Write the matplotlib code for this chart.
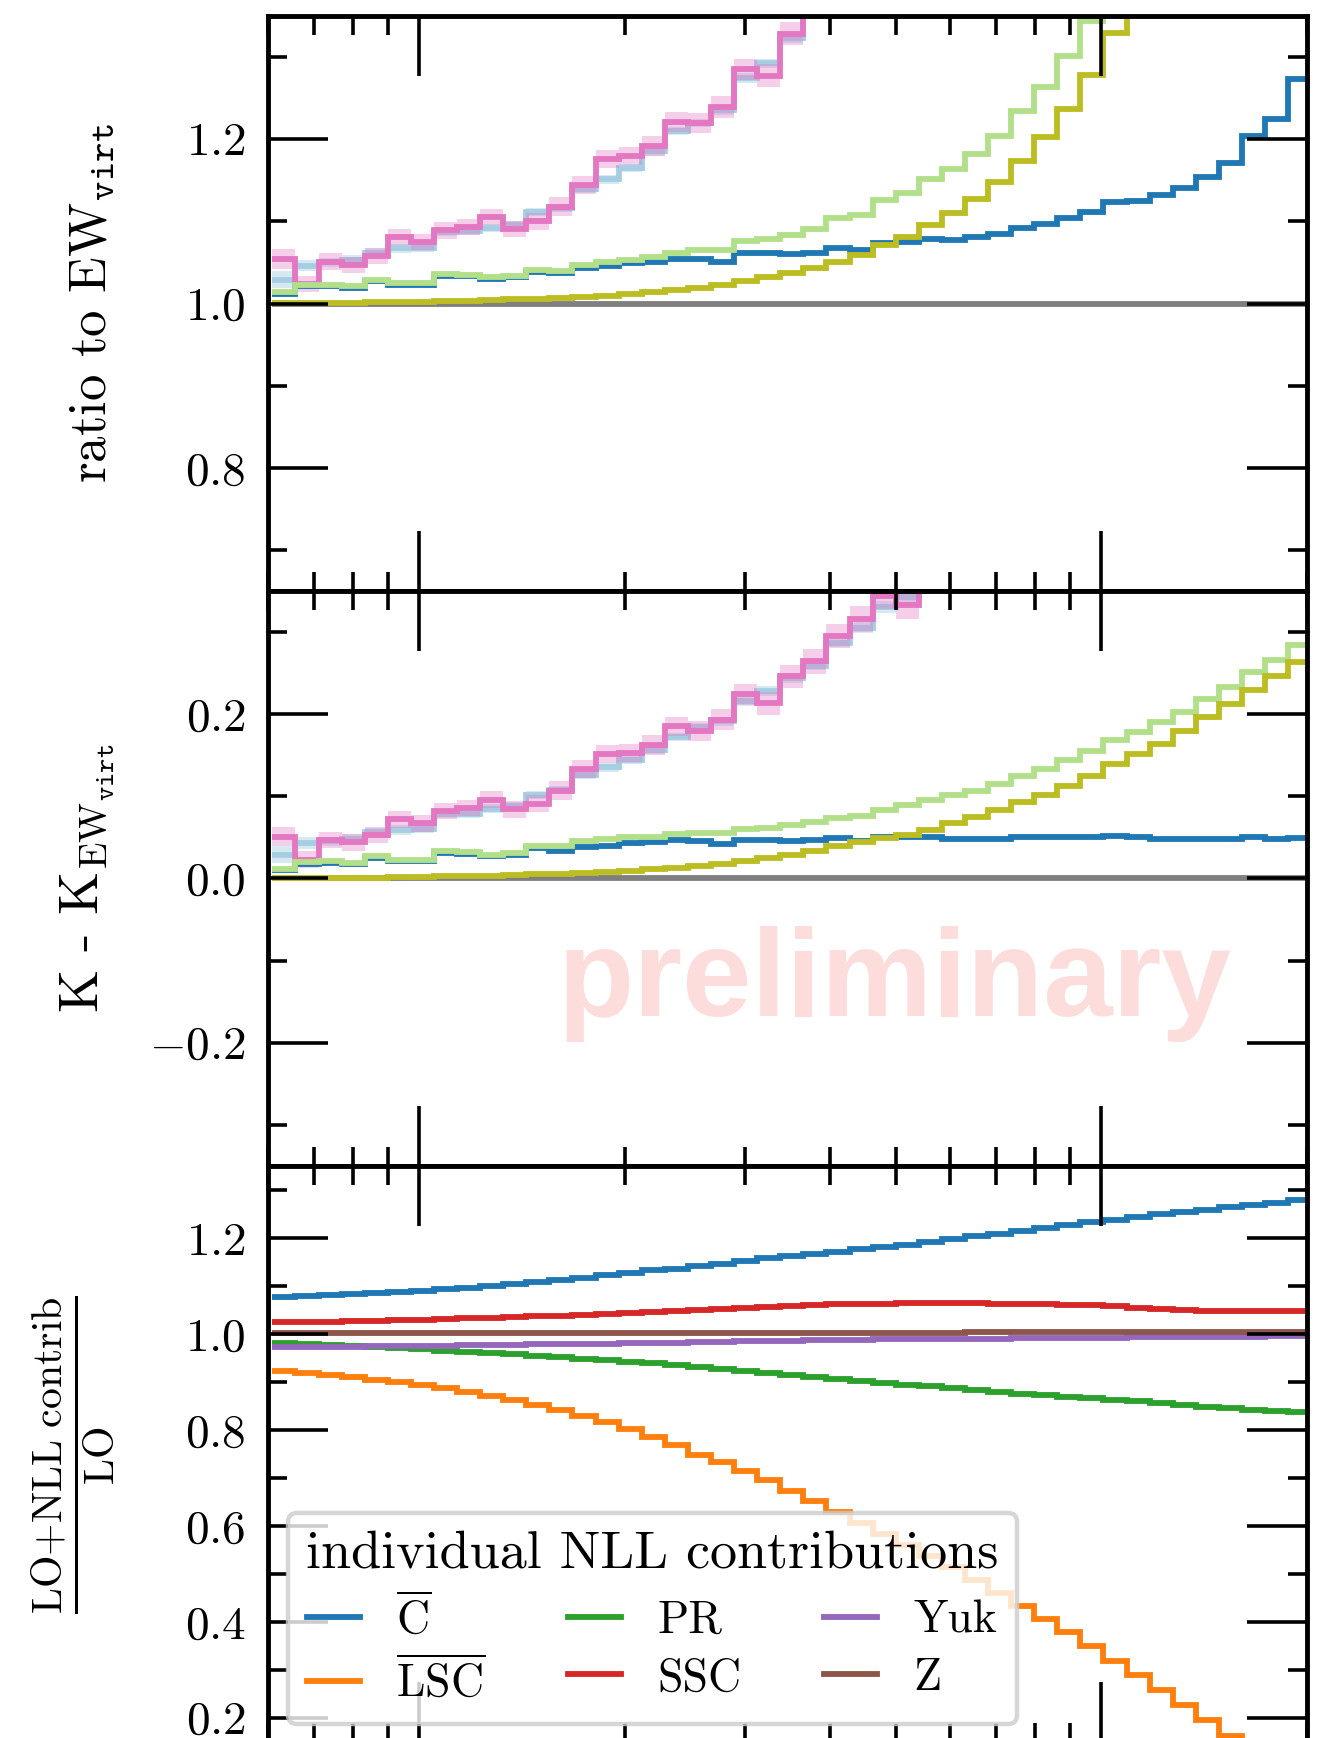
#!/usr/bin/env python3
"""
Ratio / difference to EW_virt and individual NLL contributions (three stacked panels).
"""

import numpy as np
import matplotlib
matplotlib.use('Agg')
import matplotlib.pyplot as plt
from matplotlib.ticker import MultipleLocator, LogLocator, NullFormatter, FuncFormatter

# bin edges (log-spaced), 45 bins
edges = [609.2, 658.5, 711.9, 769.6, 831.9, 899.4, 972.3, 1051.0, 1136.2, 1228.3,
         1327.8, 1435.4, 1551.8, 1677.5, 1813.4, 1960.4, 2119.3, 2291.0, 2476.7, 2677.3,
         2894.3, 3128.9, 3382.4, 3656.4, 3952.7, 4273.0, 4619.2, 4993.5, 5398.1, 5835.5,
         6308.4, 6819.6, 7372.2, 7969.5, 8615.2, 9313.3, 10068.0, 10884.0, 11766.0, 12719.0,
         13750.0, 14864.0, 16068.0, 17370.0, 18778.0, 20306.0]

# --- panel 1: ratio to EW_virt
ewvirt_ratio = [1.0] * 45
pink_ratio = [1.054, 1.024, 1.051, 1.047, 1.058, 1.081, 1.075, 1.089, 1.093, 1.105,
              1.091, 1.100, 1.118, 1.144, 1.176, 1.179, 1.192, 1.221, 1.220, 1.239,
              1.285, 1.277, 1.328, 1.38, 1.41, 1.45, 1.50, 1.55, 1.60, 1.66,
              1.72, 1.78, 1.85, 1.92, 1.99, 2.07, 2.15, 2.24, 2.33, 2.42,
              2.52, 2.62, 2.73, 2.84, 2.95]
lblue_ratio = [1.029, 1.046, 1.050, 1.053, 1.062, 1.067, 1.068, 1.087, 1.088, 1.092,
               1.095, 1.111, 1.116, 1.139, 1.151, 1.165, 1.185, 1.210, 1.220, 1.235,
               1.274, 1.292, 1.323, 1.37, 1.40, 1.44, 1.48, 1.53, 1.58, 1.63,
               1.69, 1.75, 1.81, 1.88, 1.95, 2.02, 2.10, 2.18, 2.27, 2.36,
               2.45, 2.55, 2.65, 2.75, 2.86]
green_ratio = [1.014, 1.023, 1.023, 1.021, 1.029, 1.025, 1.025, 1.036, 1.035, 1.032,
               1.034, 1.041, 1.040, 1.047, 1.050, 1.053, 1.057, 1.062, 1.065, 1.065,
               1.076, 1.079, 1.083, 1.091, 1.104, 1.108, 1.126, 1.135, 1.152, 1.164,
               1.182, 1.204, 1.234, 1.263, 1.301, 1.344, 1.40, 1.46, 1.52, 1.58,
               1.65, 1.72, 1.80, 1.88, 1.96]
blue_ratio = [1.012, 1.021, 1.021, 1.019, 1.027, 1.023, 1.023, 1.034, 1.033, 1.030,
              1.032, 1.038, 1.037, 1.043, 1.046, 1.049, 1.050, 1.054, 1.054, 1.051,
              1.061, 1.061, 1.060, 1.062, 1.068, 1.065, 1.074, 1.075, 1.079, 1.077,
              1.081, 1.085, 1.092, 1.097, 1.104, 1.111, 1.123, 1.125, 1.132, 1.141,
              1.154, 1.171, 1.204, 1.225, 1.273]
olive_ratio = [1.001, 1.001, 1.001, 1.001, 1.002, 1.002, 1.002, 1.003, 1.003, 1.004,
               1.005, 1.006, 1.007, 1.008, 1.009, 1.011, 1.014, 1.016, 1.019, 1.022,
               1.028, 1.032, 1.037, 1.043, 1.051, 1.059, 1.071, 1.081, 1.095, 1.110,
               1.127, 1.148, 1.174, 1.203, 1.237, 1.278, 1.329, 1.40, 1.47, 1.55,
               1.63, 1.72, 1.81, 1.90, 2.00]

# uncertainty half-widths of the two banded curves
pink_err = [0.012, 0.010, 0.010, 0.010, 0.010, 0.010, 0.010, 0.010, 0.010, 0.010,
            0.010, 0.010, 0.011, 0.011, 0.011, 0.011, 0.012, 0.012, 0.012, 0.013,
            0.013, 0.014, 0.014, 0.015, 0.015, 0.016, 0.016, 0.017, 0.017, 0.018,
            0.018, 0.018, 0.019, 0.019, 0.019, 0.020, 0.020, 0.020, 0.021, 0.021,
            0.021, 0.022, 0.022, 0.022, 0.023]
lblue_err = [0.010, 0.007, 0.006, 0.006, 0.006, 0.006, 0.005, 0.005, 0.005, 0.005,
             0.005, 0.005, 0.005, 0.005, 0.005, 0.005, 0.005, 0.005, 0.005, 0.006,
             0.006, 0.006, 0.006, 0.006, 0.006, 0.007, 0.007, 0.007, 0.007, 0.007,
             0.008, 0.008, 0.008, 0.008, 0.008, 0.009, 0.009, 0.009, 0.009, 0.009,
             0.010, 0.010, 0.010, 0.010, 0.010]

# --- panel 2: K - K_EW_virt
ewvirt_diff = [0.0] * 45
pink_diff = [0.051, 0.023, 0.047, 0.044, 0.053, 0.072, 0.067, 0.082, 0.086, 0.096,
             0.084, 0.091, 0.107, 0.133, 0.151, 0.153, 0.162, 0.185, 0.179, 0.193,
             0.224, 0.213, 0.246, 0.264, 0.295, 0.316, 0.344, 0.333, 0.37, 0.39,
             0.41, 0.43, 0.45, 0.47, 0.49, 0.51, 0.53, 0.55, 0.57, 0.59,
             0.61, 0.63, 0.65, 0.67, 0.69]
lblue_diff = [0.029, 0.043, 0.045, 0.048, 0.056, 0.059, 0.060, 0.078, 0.079, 0.085,
              0.088, 0.102, 0.108, 0.126, 0.135, 0.144, 0.156, 0.172, 0.184, 0.191,
              0.216, 0.228, 0.244, 0.259, 0.287, 0.305, 0.330, 0.342, 0.38, 0.40,
              0.42, 0.44, 0.46, 0.48, 0.50, 0.52, 0.54, 0.56, 0.58, 0.60,
              0.62, 0.64, 0.66, 0.68, 0.70]
green_diff = [0.012, 0.020, 0.021, 0.019, 0.027, 0.023, 0.023, 0.033, 0.032, 0.029,
              0.031, 0.040, 0.039, 0.045, 0.048, 0.050, 0.051, 0.054, 0.055, 0.055,
              0.060, 0.062, 0.065, 0.069, 0.074, 0.076, 0.083, 0.089, 0.096, 0.101,
              0.107, 0.115, 0.125, 0.133, 0.144, 0.155, 0.168, 0.178, 0.190, 0.202,
              0.218, 0.233, 0.251, 0.266, 0.284]
blue_diff = [0.010, 0.018, 0.019, 0.017, 0.025, 0.021, 0.021, 0.031, 0.030, 0.027,
             0.029, 0.037, 0.034, 0.038, 0.039, 0.043, 0.044, 0.047, 0.046, 0.042,
             0.047, 0.047, 0.046, 0.047, 0.049, 0.046, 0.050, 0.050, 0.050, 0.048,
             0.048, 0.048, 0.050, 0.050, 0.050, 0.050, 0.052, 0.050, 0.048, 0.048,
             0.048, 0.048, 0.050, 0.048, 0.049]
olive_diff = [0.001, 0.001, 0.001, 0.001, 0.001, 0.002, 0.002, 0.003, 0.003, 0.003,
              0.004, 0.005, 0.006, 0.007, 0.008, 0.009, 0.011, 0.013, 0.015, 0.018,
              0.021, 0.025, 0.029, 0.034, 0.039, 0.044, 0.049, 0.053, 0.059, 0.067,
              0.075, 0.083, 0.093, 0.102, 0.113, 0.125, 0.139, 0.151, 0.164, 0.179,
              0.196, 0.212, 0.229, 0.246, 0.263]

# --- panel 3: (LO + NLL contribution) / LO
c_bar = [1.078, 1.080, 1.082, 1.084, 1.086, 1.088, 1.091, 1.094, 1.097, 1.101,
         1.105, 1.108, 1.113, 1.118, 1.123, 1.128, 1.133, 1.137, 1.142, 1.147,
         1.152, 1.158, 1.163, 1.168, 1.172, 1.177, 1.182, 1.187, 1.193, 1.198,
         1.204, 1.210, 1.216, 1.221, 1.227, 1.233, 1.239, 1.245, 1.250, 1.254,
         1.260, 1.265, 1.269, 1.273, 1.280]
lsc_bar = [0.924, 0.919, 0.915, 0.910, 0.905, 0.900, 0.895, 0.888, 0.879, 0.872,
           0.862, 0.852, 0.841, 0.829, 0.816, 0.802, 0.785, 0.768, 0.749, 0.733,
           0.714, 0.695, 0.673, 0.652, 0.629, 0.606, 0.583, 0.560, 0.537, 0.514,
           0.487, 0.460, 0.433, 0.406, 0.378, 0.349, 0.319, 0.289, 0.258, 0.227,
           0.195, 0.163, 0.130, 0.098, 0.065]
pr = [0.982, 0.980, 0.978, 0.976, 0.974, 0.971, 0.969, 0.966, 0.963, 0.961,
      0.958, 0.955, 0.952, 0.949, 0.946, 0.942, 0.939, 0.935, 0.931, 0.927,
      0.923, 0.919, 0.915, 0.910, 0.906, 0.902, 0.898, 0.894, 0.891, 0.887,
      0.883, 0.880, 0.876, 0.873, 0.869, 0.866, 0.863, 0.860, 0.856, 0.852,
      0.849, 0.846, 0.843, 0.840, 0.837]
ssc = [1.025, 1.026, 1.026, 1.027, 1.028, 1.029, 1.030, 1.031, 1.033, 1.034,
       1.035, 1.037, 1.039, 1.040, 1.042, 1.044, 1.046, 1.048, 1.050, 1.052,
       1.054, 1.056, 1.058, 1.060, 1.062, 1.063, 1.064, 1.065, 1.065, 1.065,
       1.065, 1.064, 1.063, 1.062, 1.061, 1.060, 1.058, 1.055, 1.053, 1.051,
       1.049, 1.048, 1.048, 1.048, 1.048]
yuk = [0.973, 0.973, 0.974, 0.974, 0.975, 0.975, 0.976, 0.976, 0.977, 0.977,
       0.978, 0.979, 0.979, 0.980, 0.980, 0.981, 0.981, 0.982, 0.983, 0.984,
       0.985, 0.986, 0.986, 0.987, 0.988, 0.988, 0.989, 0.989, 0.990, 0.990,
       0.991, 0.991, 0.992, 0.992, 0.993, 0.993, 0.993, 0.994, 0.994, 0.994,
       0.995, 0.995, 0.995, 0.996, 0.996]
z = [1.002, 1.002, 1.002, 1.002, 1.002, 1.002, 1.002, 1.002, 1.002, 1.002,
     1.002, 1.002, 1.002, 1.002, 1.002, 1.003, 1.003, 1.003, 1.003, 1.003,
     1.003, 1.003, 1.003, 1.003, 1.003, 1.003, 1.003, 1.003, 1.003, 1.003,
     1.004, 1.004, 1.004, 1.004, 1.004, 1.004, 1.004, 1.004, 1.004, 1.004,
     1.004, 1.004, 1.004, 1.004, 1.004]

nll_labels = [r'$\overline{\mathrm{C}}$', r'$\overline{\mathrm{LSC}}$', 'PR', 'SSC', 'Yuk', 'Z']

LW = 4.2


def style_axis(ax, ylim):
    ax.set_xscale('log')
    ax.set_xlim(600, 20000)
    ax.set_ylim(*ylim)
    ax.xaxis.set_major_locator(LogLocator(base=10))
    ax.xaxis.set_minor_locator(LogLocator(base=10, subs=np.arange(2, 10)))
    ax.xaxis.set_major_formatter(NullFormatter())
    ax.xaxis.set_minor_formatter(NullFormatter())
    ax.yaxis.set_major_locator(MultipleLocator(0.2))
    ax.yaxis.set_minor_locator(MultipleLocator(0.1))
    ax.yaxis.set_major_formatter(FuncFormatter(lambda v, p: '${:.1f}$'.format(round(v, 6) + 0.0)))
    ax.tick_params(which='both', direction='in', top=True, right=True, width=2.6)
    ax.tick_params(which='major', length=43, pad=16, labelsize=34)
    ax.tick_params(which='minor', length=14)
    for s in ax.spines.values():
        s.set_linewidth(3.5)


def band(ax, vals, err, color, alpha):
    v = np.array(vals)
    e = np.array(err)
    ax.stairs(v + e, edges, baseline=v - e, fill=True, color=color, alpha=alpha, lw=0)


def main():
    plt.rcParams['font.family'] = 'serif'
    plt.rcParams['font.serif'] = ['cmr10']
    plt.rcParams['mathtext.fontset'] = 'cm'
    plt.rcParams['axes.formatter.use_mathtext'] = True

    fig = plt.figure(figsize=(13.32, 17.38), dpi=100)
    left, width, height = 0.2011, 0.7800, 0.3311
    ax1 = fig.add_axes([left, 0.6598, width, height])
    ax2 = fig.add_axes([left, 0.3290, width, height], sharex=ax1)
    ax3 = fig.add_axes([left, -0.0022, width, height], sharex=ax1)

    c_lblue, c_pink, c_green = '#a6cee3', '#e377c2', '#b2df8a'
    c_blue, c_olive, c_gray = '#1f78b4', '#bcbd22', '#7f7f7f'

    # panel 1
    ax1.stairs(ewvirt_ratio, edges, baseline=None, color=c_gray, lw=LW)
    band(ax1, lblue_ratio, lblue_err, c_lblue, 0.45)
    ax1.stairs(lblue_ratio, edges, baseline=None, color=c_lblue, lw=LW)
    band(ax1, pink_ratio, pink_err, c_pink, 0.35)
    ax1.stairs(pink_ratio, edges, baseline=None, color=c_pink, lw=LW)
    ax1.stairs(blue_ratio, edges, baseline=None, color=c_blue, lw=LW)
    ax1.stairs(green_ratio, edges, baseline=None, color=c_green, lw=LW)
    ax1.stairs(olive_ratio, edges, baseline=None, color=c_olive, lw=LW)
    style_axis(ax1, (0.65, 1.35))
    ax1.set_ylabel(r'ratio to EW$_{\mathtt{virt}}$', fontsize=38)

    # panel 2
    ax2.text(0.603, 0.261, 'preliminary', transform=ax2.transAxes, ha='center', va='baseline',
             fontsize=90, fontweight='bold', family='Liberation Sans', color='#fddcdc', zorder=0)
    ax2.stairs(ewvirt_diff, edges, baseline=None, color=c_gray, lw=LW)
    band(ax2, lblue_diff, lblue_err, c_lblue, 0.45)
    ax2.stairs(lblue_diff, edges, baseline=None, color=c_lblue, lw=LW)
    band(ax2, pink_diff, pink_err, c_pink, 0.35)
    ax2.stairs(pink_diff, edges, baseline=None, color=c_pink, lw=LW)
    ax2.stairs(blue_diff, edges, baseline=None, color=c_blue, lw=LW)
    ax2.stairs(green_diff, edges, baseline=None, color=c_green, lw=LW)
    ax2.stairs(olive_diff, edges, baseline=None, color=c_olive, lw=LW)
    style_axis(ax2, (-0.35, 0.35))
    ax2.set_ylabel(r'K - K$_{\mathrm{EW}_{\mathtt{virt}}}$', fontsize=40)

    # panel 3
    colors = ['tab:blue', 'tab:orange', 'tab:green', 'tab:red', 'tab:purple', 'tab:brown']
    for vals, lab, col in zip([c_bar, lsc_bar, pr, ssc, yuk, z], nll_labels, colors):
        ax3.stairs(vals, edges, baseline=None, color=col, lw=LW, label=lab)
    style_axis(ax3, (0.15, 1.35))
    ax3.set_ylabel(r'$\frac{\mathrm{LO{+}NLL\ contrib}}{\mathrm{LO}}$', fontsize=43)

    leg = ax3.legend(loc='lower left', bbox_to_anchor=(0.019, 0.031), borderaxespad=0,
                     ncol=3, fontsize=33, title='individual NLL contributions',
                     title_fontsize=39, handlelength=1.15, labelspacing=0.35,
                     columnspacing=1.8, framealpha=0.8)
    leg.get_frame().set_linewidth(3.2)

    for ax in (ax1, ax2, ax3):
        ax.yaxis.set_label_coords(-0.145, 0.5)

    fig.savefig('out.png', dpi=100)


if __name__ == '__main__':
    main()
